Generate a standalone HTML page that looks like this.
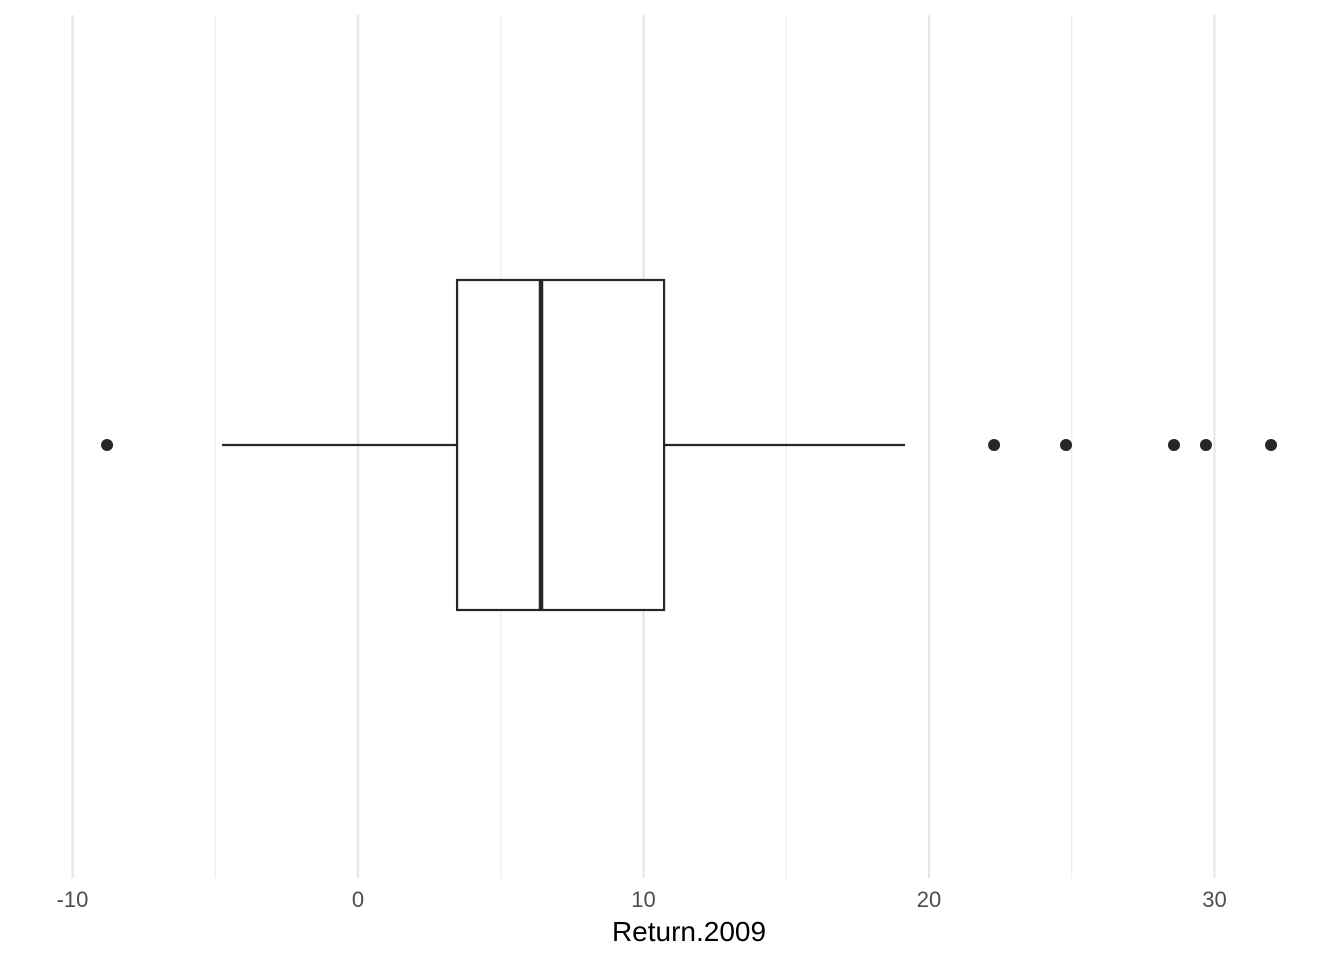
<!DOCTYPE html>
<html><head><meta charset="utf-8"><style>
body{margin:0;background:#fff;}
svg{display:block;font-family:"Liberation Sans",Arial,sans-serif;}
</style></head><body>
<svg id="chart" width="1344" height="960">
<g id="grid"></g>
<g id="marks"></g>
<g id="ticks"></g>
<text x="689" y="941" text-anchor="middle" font-size="28" fill="#000">Return.2009</text>
</svg>
<script>
const tickValues = [-10, 0, 10, 20, 30];
const minorValues = [-5, 5, 15, 25];
const stats = {lower: -4.76, q1: 3.47, median: 6.41, q3: 10.72, upper: 19.16};
const outliers = [-8.79, 22.28, 24.8, 28.58, 29.7, 31.98];

const NS = "http://www.w3.org/2000/svg";
const x = v => 358 + v * 28.55;
const yc = 445, yTop = 280, yBot = 610;
function mk(tag, attrs, parent) {
  const e = document.createElementNS(NS, tag);
  for (const k in attrs) e.setAttribute(k, attrs[k]);
  parent.appendChild(e);
  return e;
}
const grid = document.getElementById('grid');
const marks = document.getElementById('marks');
const ticks = document.getElementById('ticks');
minorValues.forEach(v => {
  const l = mk('line', {x1: x(v), x2: x(v), y1: 15, y2: 878, stroke: '#ebebeb', 'stroke-width': 1.1}, grid);
  
  
});
tickValues.forEach(v => {
  const l = mk('line', {x1: x(v), x2: x(v), y1: 15, y2: 878, stroke: '#e6e6e6', 'stroke-width': 2.2}, grid);
  
  
  const t = mk('text', {x: x(v), y: 907, 'text-anchor': 'middle', 'font-size': 22, fill: '#4d4d4d'}, ticks);
  t.textContent = v;
  
  
});
const w1 = mk('line', {x1: x(stats.lower), x2: x(stats.q1), y1: yc, y2: yc, stroke: '#262626', 'stroke-width': 2.2}, marks);


const w2 = mk('line', {x1: x(stats.q3), x2: x(stats.upper), y1: yc, y2: yc, stroke: '#262626', 'stroke-width': 2.2}, marks);


const box = mk('rect', {x: x(stats.q1), y: yTop, width: x(stats.q3) - x(stats.q1), height: yBot - yTop, fill: '#fff', stroke: '#262626', 'stroke-width': 2.2}, marks);


const med = mk('line', {x1: x(stats.median), x2: x(stats.median), y1: yTop, y2: yBot, stroke: '#262626', 'stroke-width': 4.5}, marks);


outliers.forEach(v => {
  const c = mk('circle', {cx: x(v), cy: yc, r: 6, fill: '#262626'}, marks);
  
  
});
</script>
</body></html>
